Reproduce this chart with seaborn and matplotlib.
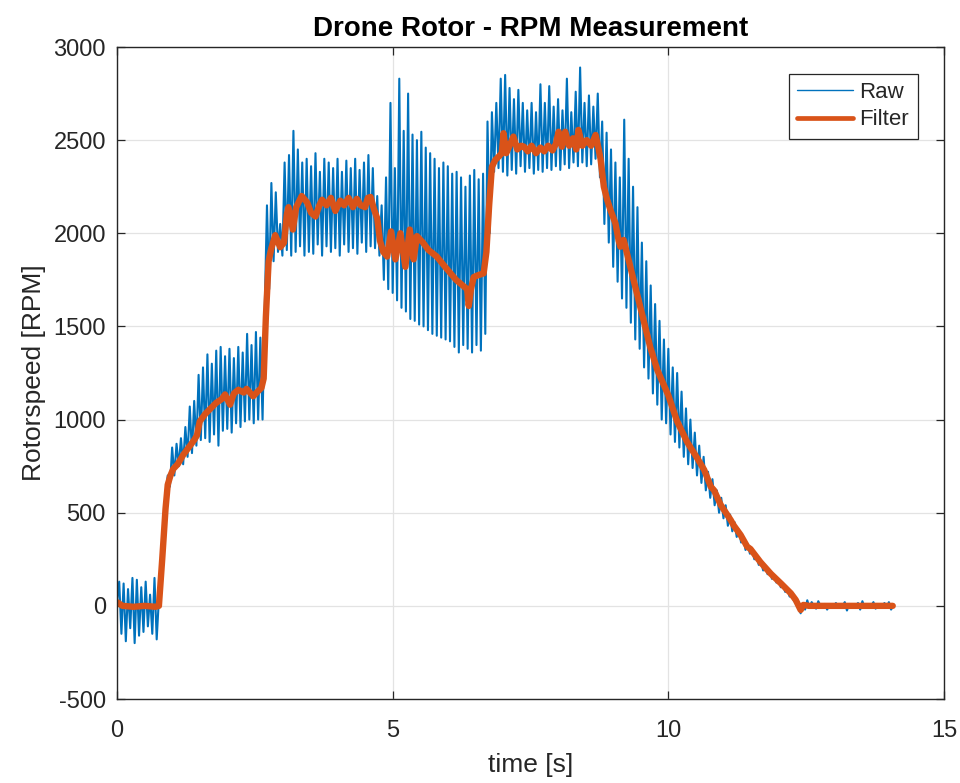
import numpy as np
import pandas as pd
import matplotlib
matplotlib.use("Agg")
import matplotlib.pyplot as plt
import seaborn as sns

# ---------------- data ----------------
raw_dt = 0.04  # sample spacing of the raw trace [s]
raw_rpm = [
    20, 130, -150, 120, -190, 90, -120, 150, -200, 140, -160, 100, -140, 130, -110, 60, -150, 150, -180,
    40, 200, 420, 600, 700, 640, 850, 700, 870, 750, 900, 760, 960, 800, 1070, 820, 1100, 860, 1240, 890,
    1280, 900, 1350, 880, 1300, 920, 1370, 860, 1390, 940, 1340, 950, 1380, 930, 1330, 980, 1390, 960,
    1360, 990, 1460, 1000, 1400, 980, 1470, 1000, 1440, 1000,
    1600, 2150, 1700, 2270, 1850, 2220, 1900, 2050, 1880, 2380, 1910, 2420, 1880, 2550, 1900, 2450, 1930,
    2380, 1880, 2400, 1900, 2360, 1890, 2430, 1940, 2330, 1880, 2400, 1930, 2380, 1900, 2350, 1920, 2400,
    1880, 2330, 1940, 2390, 1900, 2350, 1920, 2400, 1890, 2340, 1950, 2380, 1900, 2420, 1930, 2350, 1920,
    2200, 1880, 2150, 1750, 2300, 1700, 2700, 1680, 2350, 1640, 2830, 1600, 2550, 1580, 2750, 1540, 2530,
    1530, 2500, 1510, 2545, 1500, 2460, 1480, 2430, 1460, 2400, 1450, 2350, 1440, 2380, 1430, 2360, 1420,
    2320, 1390, 2330, 1360, 2300, 1400, 2250, 1380, 2310, 1360, 2340, 1400, 2290, 1370, 2320, 1460,
    2600, 2000, 2650, 2330, 2700, 2350, 2830, 2330, 2850, 2310, 2780, 2340, 2720, 2320, 2770, 2360, 2700,
    2330, 2660, 2350, 2700, 2320, 2650, 2340, 2800, 2330, 2700, 2350, 2790, 2340, 2680, 2360, 2720, 2340,
    2660, 2370, 2830, 2350, 2650, 2380, 2760, 2360, 2890, 2380, 2700, 2360, 2740, 2370, 2680, 2400, 2750,
    2300, 2600, 2050, 2540, 1950, 2450, 1820, 2380, 1740, 2300, 1650, 2610, 1600, 2400, 1520, 2250, 1430,
    2140, 1380, 1950, 1280, 1850, 1220, 1720, 1140, 1620, 1080, 1530, 1000, 1430, 980, 1380, 920, 1280,
    880, 1250, 850, 1150, 800, 1060, 760, 1000, 740, 930, 700, 860, 660, 800, 620, 720, 580, 680, 540,
    620, 500, 580, 470, 540, 430, 490, 400, 450, 370, 410, 340, 370, 300, 330, 280, 300, 250, 270, 220,
    240, 190, 210, 170, 185, 145, 160, 125, 135, 100, 110, 75, 85, 50, 60, 25, 30, -10, -40, 10, -20, 30,
    -10, 20, 0, -15, 25, 0, 0, 10, -20, 0, 0, 0, 15, -10, 0, 0, 20, -25, 10, 0, 0, 0, 15, -20, 25, -10,
    0, 0, 0, 20, -15, 10, 0, 0, 15, -10, 20, -20, 0,
]

filter_time = [
    0.00, 0.10, 0.30, 0.50, 0.70, 0.76, 0.82, 0.88, 0.92, 0.97, 1.02, 1.10, 1.20, 1.30, 1.40, 1.45, 1.50,
    1.60, 1.70, 1.80, 1.90, 1.96, 2.05, 2.12, 2.20, 2.30, 2.35, 2.47, 2.55, 2.62, 2.66, 2.70, 2.75, 2.80,
    2.87, 2.96, 3.03, 3.08, 3.11, 3.19, 3.25, 3.35, 3.45, 3.52, 3.60, 3.67, 3.72, 3.80, 3.88, 3.96, 4.05,
    4.12, 4.20, 4.28, 4.35, 4.42, 4.50, 4.55, 4.60, 4.66, 4.72, 4.77, 4.83, 4.90, 4.97, 5.05, 5.14, 5.23,
    5.31, 5.38, 5.44, 5.55, 5.65, 5.80, 5.95, 6.05, 6.15, 6.29, 6.35, 6.38, 6.42, 6.47, 6.55, 6.65, 6.70,
    6.75, 6.80, 6.86, 6.92, 6.98, 7.01, 7.06, 7.12, 7.19, 7.26, 7.33, 7.38, 7.45, 7.52, 7.60, 7.68, 7.75,
    7.82, 7.90, 7.96, 8.01, 8.07, 8.13, 8.20, 8.27, 8.33, 8.37, 8.44, 8.52, 8.60, 8.68, 8.73, 8.77, 8.83,
    8.89, 8.95, 9.04, 9.10, 9.13, 9.19, 9.28, 9.43, 9.55, 9.67, 9.80, 10.00, 10.16, 10.34, 10.53, 10.65,
    10.77, 10.83, 10.95, 11.01, 11.13, 11.19, 11.31, 11.43, 11.49, 11.67, 11.86, 12.04, 12.22, 12.31,
    12.40, 12.45, 12.55, 14.07,
]
filter_rpm = [
    20, 0, -5, 0, -5, 0, 250, 520, 650, 700, 735, 760, 810, 850, 890, 915, 990,
    1030, 1060, 1090, 1110, 1135, 1080, 1140, 1160, 1145, 1165, 1125, 1150, 1170, 1220, 1550, 1850, 1920,
    1990, 1925, 1950, 2100, 2140, 2020, 2140, 2200, 2165, 2110, 2090, 2150, 2180, 2150, 2190, 2120, 2175,
    2150, 2190, 2140, 2185, 2150, 2140, 2190, 2195, 2130, 2080, 1960, 1900, 1875, 2010, 1860, 2000, 1820,
    2020, 1860, 1985, 1950, 1910, 1875, 1820, 1785, 1750, 1715, 1700, 1610, 1700, 1765, 1775, 1785, 1900,
    2150, 2357, 2393, 2411, 2430, 2537, 2430, 2470, 2519, 2450, 2470, 2465, 2440, 2470, 2430, 2460, 2440,
    2470, 2445, 2480, 2545, 2465, 2545, 2470, 2510, 2450, 2555, 2470, 2500, 2470, 2528, 2460, 2400, 2250,
    2180, 2125, 2054, 1960, 1928, 1964, 1857, 1678, 1535, 1391, 1266, 1130, 990, 880, 790, 730,
    640, 620, 542, 515, 461, 430, 381, 318, 305, 235, 172, 121, 68, 32,
    -22, 5, 0, 0,
]

series_labels = ["Raw", "Filter"]
x_ticks = [0, 5, 10, 15]
y_ticks = [-500, 0, 500, 1000, 1500, 2000, 2500, 3000]

raw_df = pd.DataFrame({"time": np.arange(len(raw_rpm)) * raw_dt, "rpm": raw_rpm})
filt_df = pd.DataFrame({"time": filter_time, "rpm": filter_rpm})

# ---------------- styling ----------------
sns.set_theme(style="whitegrid")
plt.rcParams["font.family"] = ["Liberation Sans", "DejaVu Sans"]

fig = plt.figure(figsize=(9.6, 7.83), dpi=100)
ax = fig.add_axes([117 / 960, 1 - 699 / 783, (944 - 117) / 960, (699 - 47) / 783])

sns.lineplot(data=raw_df, x="time", y="rpm", ax=ax, color="#0072BD", linewidth=1.5,
             estimator=None, sort=False, label=series_labels[0])
sns.lineplot(data=filt_df, x="time", y="rpm", ax=ax, color="#D95319", linewidth=4.6,
             estimator=None, sort=False, label=series_labels[1])

ax.set_xlim(0, 15)
ax.set_ylim(-500, 3000)
ax.set_xticks(x_ticks)
ax.set_yticks(y_ticks)
ax.set_xticklabels([str(v) for v in x_ticks])
ax.set_yticklabels([str(v) for v in y_ticks])

ax.grid(True, color="#e3e3e3", linewidth=0.9)
ax.set_facecolor("white")
for s in ax.spines.values():
    s.set_visible(True)
    s.set_color("#262626")
    s.set_linewidth(1.0)
ax.tick_params(axis="both", which="both", direction="in", length=6, width=0.9,
               colors="#262626", labelsize=17, top=True, right=True,
               bottom=True, left=True)
ax.tick_params(axis="y", pad=8)
ax.tick_params(axis="x", pad=15)
for lab in ax.get_xticklabels() + ax.get_yticklabels():
    lab.set_color("#262626")

ax.set_xlabel("time [s]", fontsize=19, color="#262626", labelpad=8)
ax.set_ylabel("Rotorspeed [RPM]", fontsize=19, color="#262626", labelpad=5)
ax.set_title("Drone Rotor - RPM Measurement", fontsize=20, fontweight="bold",
             color="black", pad=8)

leg = ax.legend(loc="upper right", bbox_to_anchor=(0.968, 0.959), borderaxespad=0,
                fontsize=16, frameon=True, fancybox=False, handlelength=2.5,
                handletextpad=0.3, borderpad=0.38, labelspacing=0.28)
leg.get_frame().set_edgecolor("#262626")
leg.get_frame().set_linewidth(0.9)
leg.get_frame().set_alpha(1)
leg_lines = leg.get_lines()
leg_lines[0].set_linewidth(1.0)
leg_lines[1].set_linewidth(3.4)

fig.savefig("out.png", dpi=100, facecolor="white")
